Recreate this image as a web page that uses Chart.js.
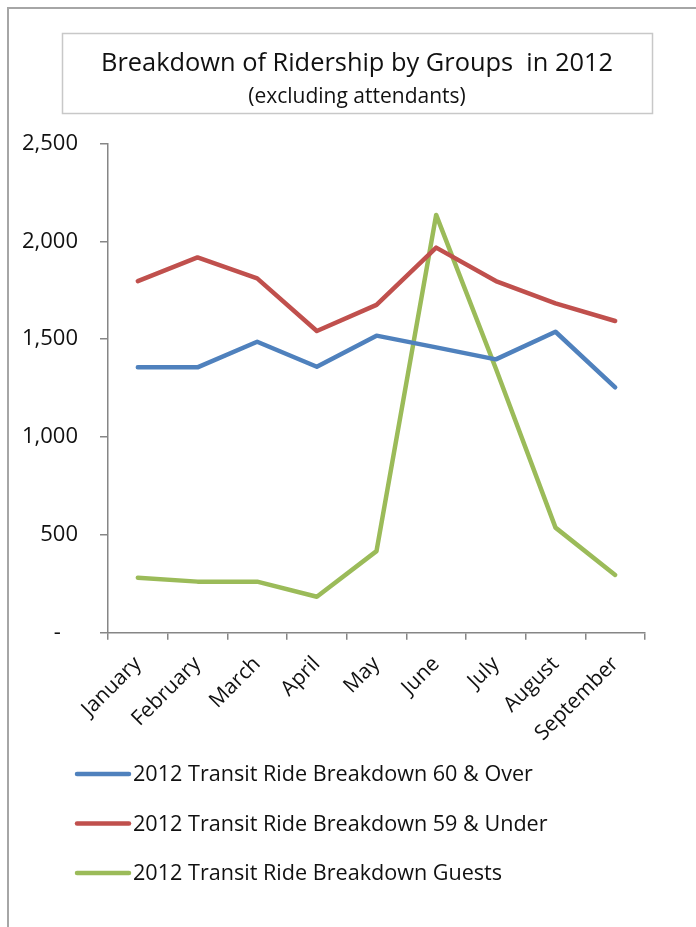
<!DOCTYPE html>
<html>
<head>
<meta charset="utf-8">
<script src="https://cdn.jsdelivr.net/npm/chart.js@4"></script>
<style>
  html, body { margin: 0; padding: 0; background: #fff; }
</style>
</head>
<body>
<canvas id="ridershipChart" width="696" height="927"></canvas>
<script>
// ===== Data =====
const months = ['January', 'February', 'March', 'April', 'May', 'June', 'July', 'August', 'September'];
const over60 = [1356, 1356, 1487, 1359, 1518, 1458, 1397, 1538, 1254];
const under59 = [1797, 1918, 1811, 1542, 1675, 1968, 1797, 1683, 1593];
const guests = [281, 261, 261, 184, 417, 2135, 1350, 537, 295];
const seriesNames = [
  '2012 Transit Ride Breakdown 60 & Over',
  '2012 Transit Ride Breakdown 59 & Under',
  '2012 Transit Ride Breakdown Guests'
];
const yTicks = [0, 500, 1000, 1500, 2000, 2500];
const titleText = 'Breakdown of Ridership by Groups  in 2012';
const subtitleText = '(excluding attendants)';

const AXIS = '#868686';
const FONT = '"Open Sans", sans-serif';

// outer frame, boxed title and the stacked legend
const framePlugin = {
  id: 'framePlugin',
  beforeDraw(chart) {
    const ctx = chart.ctx;
    ctx.save();
    ctx.strokeStyle = '#a6a6a6';
    ctx.lineWidth = 2;
    ctx.strokeRect(8, 8, 720, 960);
    ctx.strokeStyle = '#c8c8c8';
    ctx.lineWidth = 1.5;
    ctx.strokeRect(62.5, 33.5, 590, 80);

    ctx.fillStyle = '#111';
    ctx.textAlign = 'center';
    ctx.textBaseline = 'middle';
    ctx.font = '25.4px ' + FONT;
    ctx.fillText(titleText, 357, 64);
    ctx.font = '21px ' + FONT;
    ctx.fillText(subtitleText, 357, 97);
    ctx.restore();
  },
  afterDraw(chart) {
    const ctx = chart.ctx;
    ctx.save();
    ctx.font = '21.6px ' + FONT;
    ctx.textBaseline = 'middle';
    chart.data.datasets.forEach((ds, i) => {
      const y = 774 + i * 49.5;
      ctx.strokeStyle = ds.borderColor;
      ctx.lineWidth = 4.5;
      ctx.lineCap = 'round';
      ctx.beginPath();
      ctx.moveTo(77, y);
      ctx.lineTo(129, y);
      ctx.stroke();
      ctx.fillStyle = '#111';
      ctx.fillText(ds.label, 133, y + 1);
    });
    ctx.restore();
  }
};

function lineSet(label, data, color) {
  return {
    label: label,
    data: data,
    borderColor: color,
    backgroundColor: color,
    borderWidth: 4.5,
    pointRadius: 0,
    tension: 0,
    borderJoinStyle: 'round',
    borderCapStyle: 'round',
    fill: false
  };
}

new Chart(document.getElementById('ridershipChart'), {
  type: 'line',
  data: {
    labels: months,
    datasets: [
      lineSet(seriesNames[0], over60, '#4f81bd'),
      lineSet(seriesNames[1], under59, '#c0504d'),
      lineSet(seriesNames[2], guests, '#9bbb59')
    ]
  },
  options: {
    responsive: false,
    animation: false,
    layout: { padding: { top: 143.5, right: 51, bottom: 0, left: 0 } },
    plugins: {
      legend: { display: false },
      tooltip: { enabled: false }
    },
    scales: {
      x: {
        offset: true,
        afterFit(scale) { scale.height = 927 - 632.7; },
        border: { color: AXIS, width: 1.5 },
        grid: { offset: true, drawOnChartArea: false, tickLength: 7, color: AXIS, lineWidth: 1.5 },
        ticks: {
          minRotation: 45,
          maxRotation: 45,
          padding: 12,
          color: '#111',
          font: { family: FONT, size: 21 }
        }
      },
      y: {
        min: 0,
        max: 2500,
        afterFit(scale) { scale.width = 108; },
        afterBuildTicks(scale) { scale.ticks = yTicks.map(v => ({ value: v })); },
        border: { color: AXIS, width: 1.5 },
        grid: { drawOnChartArea: false, tickLength: 8, color: AXIS, lineWidth: 1.5 },
        ticks: {
          padding: 22,
          color: '#111',
          font: { family: FONT, size: 22 },
          callback: v => v === 0 ? '-   ' : v.toLocaleString('en-US')
        }
      }
    }
  },
  plugins: [framePlugin]
});
</script>
</body>
</html>
